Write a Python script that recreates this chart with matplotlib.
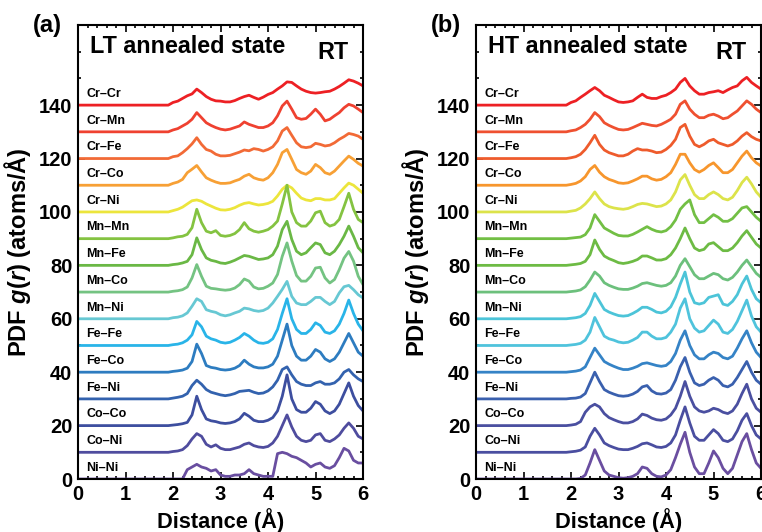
import numpy as np
import matplotlib
matplotlib.use("Agg")
import matplotlib.pyplot as plt
from matplotlib.ticker import MultipleLocator

plt.rcParams["font.family"] = ["Liberation Sans", "DejaVu Sans"]
plt.rcParams["font.weight"] = "bold"
plt.rcParams["mathtext.fontset"] = "custom"
plt.rcParams["mathtext.it"] = "Liberation Sans:bold:italic"
plt.rcParams["mathtext.rm"] = "Liberation Sans:bold"

# pair names, top to bottom (offset 140 ... 0)
pairs = ["Cr–Cr", "Cr–Mn", "Cr–Fe", "Cr–Co", "Cr–Ni",
         "Mn–Mn", "Mn–Fe", "Mn–Co", "Mn–Ni",
         "Fe–Fe", "Fe–Co", "Fe–Ni",
         "Co–Co", "Co–Ni", "Ni–Ni"]
offsets = [140, 130, 120, 110, 100, 90, 80, 70, 60, 50, 40, 30, 20, 10, 0]

# distance grid (Å) on which the curves were read, 2.0 ... 6.0
r_grid = np.round(np.arange(2.0, 6.001, 0.1), 1)

colors_a = ["#ed2024", "#ef4130", "#f26a36", "#f7a035", "#ece53c",
            "#84c341", "#6ab845", "#74c382", "#67c8d3",
            "#29b4e8", "#2d7cc0", "#3362ae",
            "#3d4e9f", "#4f4c9e", "#694ea0"]
colors_b = ["#ed2024", "#ef5030", "#ee5b2c", "#f7962d", "#dce34a",
            "#72bf44", "#6dbb44", "#6cc07c", "#4cc4d8",
            "#4fc3dc", "#3583c6", "#3a60ae",
            "#4a4fa0", "#4a4ea0", "#6a4ea0"]

# ---- (a) LT annealed state: g(r) above each baseline ----
CrCr_a = [1.0,1.5,2.5,3.5,4.2,6.0,4.7,3.2,2.2,1.6,1.5,1.2,1.2,1.7,2.5,3.2,3.7,2.9,2.2,3.0,4.0,4.7,6.0,7.2,8.7,8.5,7.2,6.0,5.2,4.7,4.5,4.7,5.0,5.2,6.0,7.0,8.2,9.5,9.0,8.2,7.2]
CrMn_a = [0.7,1.2,2.2,3.2,4.7,7.2,5.3,3.4,2.4,1.6,1.0,0.7,1.0,1.6,2.2,3.7,2.8,2.2,1.6,1.6,2.2,3.4,6.0,9.7,11.5,8.5,5.3,4.7,5.0,6.6,8.5,6.6,4.1,4.7,6.0,7.2,9.0,10.3,9.7,8.5,7.2]
CrFe_a = [0.7,1.0,2.2,3.7,5.5,7.8,5.3,3.4,2.8,1.6,1.0,1.0,1.2,1.8,2.4,3.2,2.9,3.7,3.4,2.8,3.4,4.4,6.6,10.3,11.6,8.7,5.9,4.4,4.1,4.4,5.7,5.3,4.7,5.0,5.9,7.2,8.2,9.4,9.0,8.4,7.2]
CrCo_a = [0.7,1.2,2.2,4.7,6.0,7.4,5.0,2.8,1.9,1.2,0.7,0.7,0.9,1.6,2.2,3.4,4.1,2.8,2.2,1.9,2.8,4.7,7.8,12.2,13.4,9.7,5.9,4.7,4.1,5.3,7.8,6.6,4.7,4.1,5.3,7.2,9.1,10.9,9.7,8.2,7.2]
CrNi_a = [0.5,1.0,1.8,3.0,4.2,4.5,4.0,3.0,2.2,1.4,0.8,0.7,1.0,1.6,2.5,3.2,3.5,3.0,2.6,2.8,3.2,4.0,6.0,8.5,10.0,9.0,7.0,5.2,4.5,4.2,5.0,5.0,4.5,4.5,5.0,7.0,9.0,10.8,10.0,8.5,7.0]
MnMn_a = [0.3,0.7,0.9,1.6,4.1,11.0,6.0,2.8,2.2,3.0,1.2,0.9,1.2,1.9,3.4,6.0,3.7,2.8,2.4,2.8,3.4,4.7,6.6,13.0,20.0,10.0,6.0,4.7,4.7,6.6,9.7,10.3,6.0,4.7,5.3,7.2,12.0,17.0,11.0,7.2,6.0]
MnFe_a = [0.3,0.5,0.9,1.5,4.0,10.3,5.9,2.8,1.9,1.5,0.9,0.7,1.2,1.9,2.8,3.7,3.4,2.8,2.2,2.4,2.8,4.0,7.2,13.4,16.5,9.7,5.3,4.0,4.7,6.6,8.4,7.8,4.7,4.0,5.3,7.8,10.9,14.7,10.9,6.6,4.7]
MnCo_a = [0.3,0.5,0.9,1.9,5.3,10.3,5.9,2.2,1.4,1.2,0.9,0.7,0.9,1.5,2.8,4.9,4.1,1.9,1.2,1.4,2.2,3.4,6.6,13.4,18.4,11.6,6.2,4.1,4.1,5.9,9.0,9.3,5.3,3.4,4.7,8.4,12.7,15.2,11.6,5.9,2.8]
MnNi_a = [0.4,0.6,1.1,2.2,4.7,7.5,6.5,3.4,2.8,2.4,1.5,1.1,1.5,2.2,2.8,4.0,3.7,3.1,2.8,3.1,4.0,5.9,8.4,11.0,14.0,8.4,5.9,5.3,5.3,6.5,8.0,8.0,6.5,5.3,6.5,9.7,12.0,12.5,10.9,9.0,7.8]
FeFe_a = [0.3,0.5,1.0,2.0,4.0,9.0,7.0,3.5,2.5,2.0,1.2,0.9,1.2,2.0,3.0,4.5,3.5,2.0,1.0,0.8,1.2,2.5,6.0,12.0,17.5,10.0,6.0,4.5,4.5,6.0,8.5,7.5,5.0,4.5,5.5,8.0,12.0,17.0,12.0,8.0,5.5]
FeCo_a = [0.3,0.5,0.8,1.5,4.0,10.5,7.0,2.5,1.8,1.5,1.0,0.8,1.0,1.5,2.5,4.5,3.0,2.0,1.6,1.6,2.0,3.0,6.0,12.0,18.0,10.0,6.0,4.5,4.5,6.0,8.5,7.5,5.0,4.0,5.0,7.5,11.0,14.5,11.0,7.5,6.0]
FeNi_a = [0.3,0.6,1.0,2.0,5.0,7.0,5.5,3.5,2.5,2.0,1.5,1.2,1.5,2.0,2.8,3.0,3.2,2.5,2.0,2.2,3.0,4.5,7.0,11.0,12.0,9.0,6.5,5.5,5.0,5.0,6.0,6.5,5.5,5.5,6.0,7.5,10.0,11.0,9.0,7.5,6.5]
CoCo_a = [0.2,0.4,0.7,1.2,4.0,11.0,6.0,2.5,1.8,1.5,1.0,0.8,1.0,1.5,2.5,4.6,3.5,2.0,1.5,1.5,2.0,3.0,5.5,11.0,19.0,10.0,6.0,5.0,5.0,6.5,9.0,8.0,5.5,4.5,5.5,8.0,12.0,16.0,11.0,7.5,5.5]
CoNi_a = [0.3,0.5,1.0,2.5,5.0,7.0,6.0,3.0,2.0,2.8,1.5,1.0,1.0,1.5,2.0,3.0,3.5,2.5,2.0,1.8,2.2,3.5,6.0,10.0,14.0,9.5,6.0,4.5,4.0,4.5,6.5,7.0,4.5,4.0,5.0,6.5,9.0,11.0,9.0,6.0,5.0]
NiNi_a = [0.0,0.0,0.0,3.5,4.5,5.5,4.5,4.0,3.0,3.5,1.5,1.0,1.0,1.5,1.5,2.0,3.5,2.0,1.5,1.0,1.0,1.0,9.5,10.0,9.5,8.5,8.0,7.0,6.0,4.5,5.5,6.0,4.5,4.0,5.0,8.0,11.5,10.5,7.0,6.0,6.0]

# ---- (b) HT annealed state ----
CrCr_b = [1.0,1.6,2.9,4.1,5.4,6.6,5.4,3.7,2.9,2.0,1.2,1.0,1.2,1.6,2.9,4.1,2.9,2.5,2.5,3.2,3.7,4.7,6.0,8.5,10.0,7.2,5.4,4.1,4.1,4.7,5.0,5.4,4.7,5.7,6.6,7.2,9.1,10.4,8.5,7.2,6.0]
CrMn_b = [0.4,0.7,1.6,2.8,4.7,7.2,5.7,3.4,2.4,1.6,0.9,0.7,0.9,1.6,2.4,3.2,2.8,2.4,2.2,2.8,3.7,4.7,6.6,10.3,11.6,8.5,6.6,5.3,5.3,6.2,6.6,5.9,4.9,5.3,6.6,7.8,9.7,11.6,10.3,8.5,7.2]
CrFe_b = [0.3,0.7,1.6,3.4,5.9,8.7,5.3,3.2,2.2,1.6,1.0,1.0,1.6,2.8,3.7,3.2,3.2,2.8,2.2,2.4,3.4,4.9,7.2,11.6,12.8,8.4,5.3,4.4,5.3,6.6,7.2,5.9,5.3,4.7,5.3,6.6,8.4,9.7,8.2,7.2,6.6]
CrCo_b = [0.3,0.7,1.6,3.2,5.9,7.4,4.9,3.2,2.2,1.6,0.9,0.7,0.9,1.6,2.4,3.4,3.4,2.4,1.9,2.2,3.2,4.7,7.8,11.6,11.6,8.4,5.9,4.9,5.9,7.4,8.4,6.6,4.7,4.7,5.9,8.4,10.9,12.8,10.3,8.4,7.2]
CrNi_b = [0.3,0.6,1.5,3.0,5.0,7.5,5.0,3.0,2.0,1.5,1.2,1.0,1.3,2.0,2.8,3.2,3.0,2.5,2.0,2.2,3.0,4.5,7.5,12.0,14.0,10.0,6.5,5.0,5.0,6.5,7.5,6.5,5.0,4.5,5.5,8.0,11.0,13.0,10.5,7.5,5.5]
MnMn_b = [0.2,0.4,0.6,1.5,4.0,9.0,6.5,4.0,3.0,2.0,1.2,1.0,1.0,1.6,2.5,3.5,4.5,3.5,2.8,2.5,3.0,4.5,7.0,11.0,13.0,14.5,9.0,6.0,6.0,7.5,9.0,8.0,6.5,6.5,7.5,9.5,11.5,12.0,10.0,8.0,6.5]
MnFe_b = [0.2,0.4,0.7,1.5,4.0,9.5,6.0,3.5,2.5,1.8,1.0,0.7,1.0,1.5,2.2,3.5,3.5,2.8,2.0,2.0,2.5,4.0,6.5,10.0,14.0,10.0,6.5,5.5,6.0,8.0,8.5,7.0,5.5,5.5,6.5,8.5,11.0,13.0,10.5,8.0,6.5]
MnCo_b = [0.2,0.4,0.8,2.0,4.5,7.5,6.0,3.5,2.5,1.8,1.2,1.0,1.0,1.5,2.2,3.2,3.5,3.0,2.5,2.2,2.5,3.5,6.0,10.0,12.5,9.5,6.5,5.0,5.0,6.0,7.0,6.5,5.0,4.5,5.5,7.5,10.0,12.0,9.5,7.0,5.5]
MnNi_b = [0.2,0.4,0.8,2.0,5.0,9.5,6.5,3.5,2.5,1.8,1.2,1.0,1.2,2.0,3.0,4.3,4.3,3.5,2.5,2.2,2.8,4.5,8.0,13.0,17.5,10.0,6.0,5.5,6.0,8.0,8.5,9.0,5.5,5.0,6.5,9.0,13.0,16.0,11.0,7.5,6.0]
FeFe_b = [0.2,0.4,0.8,2.0,5.0,10.5,7.0,3.5,2.5,2.0,1.3,1.0,1.2,2.0,3.0,5.0,5.0,3.5,2.5,2.5,3.0,5.0,8.0,14.0,17.5,10.0,6.5,5.0,5.5,7.5,9.5,8.0,5.0,4.5,6.0,9.0,13.0,17.0,11.0,7.0,5.0]
FeCo_b = [0.2,0.4,0.8,2.0,5.5,9.0,6.5,4.0,3.0,2.2,1.5,1.0,1.0,1.5,2.2,3.2,3.5,3.0,2.5,2.2,2.5,4.0,7.0,12.0,15.5,10.0,6.5,5.0,5.0,6.5,7.5,7.0,5.5,5.0,6.0,9.0,12.5,15.5,11.0,7.5,5.5]
FeNi_b = [0.2,0.3,0.7,2.0,6.0,10.0,6.5,3.5,2.5,1.8,1.2,1.0,1.2,1.8,2.8,4.5,5.0,3.0,2.0,1.8,2.2,3.5,7.0,12.0,15.5,10.0,6.0,5.0,5.5,7.0,8.0,7.0,5.0,4.5,5.5,8.0,11.0,14.0,10.0,7.0,5.5]
CoCo_b = [0.2,0.5,1.5,5.0,7.0,8.0,7.0,4.5,3.0,2.2,1.5,1.0,1.0,1.5,2.5,4.3,3.8,2.8,2.2,2.0,2.5,4.0,6.5,11.0,16.5,11.0,7.0,5.5,5.0,5.5,6.5,6.0,5.0,4.5,5.5,8.0,12.0,15.5,10.0,6.5,5.0]
CoNi_b = [0.2,0.4,0.8,2.0,6.0,9.0,6.5,3.5,2.5,1.8,1.2,1.0,1.0,1.5,2.2,3.2,3.5,2.8,2.0,1.8,2.2,3.5,6.5,12.0,17.0,11.0,6.0,4.5,4.5,6.5,8.5,7.0,4.5,4.0,5.0,8.0,12.0,14.5,10.0,6.5,5.0]
NiNi_b = [0.0,0.0,0.2,1.5,6.0,11.0,7.0,3.0,1.5,1.0,0.5,0.3,0.5,1.0,2.0,4.5,4.0,2.0,1.0,0.8,1.5,3.5,8.0,13.0,17.5,10.0,4.5,2.0,2.0,6.0,10.5,8.0,4.0,2.0,4.0,9.0,14.0,17.0,11.0,6.0,4.0]

curves_a = [CrCr_a, CrMn_a, CrFe_a, CrCo_a, CrNi_a, MnMn_a, MnFe_a, MnCo_a,
            MnNi_a, FeFe_a, FeCo_a, FeNi_a, CoCo_a, CoNi_a, NiNi_a]
curves_b = [CrCr_b, CrMn_b, CrFe_b, CrCo_b, CrNi_b, MnMn_b, MnFe_b, MnCo_b,
            MnNi_b, FeFe_b, FeCo_b, FeNi_b, CoCo_b, CoNi_b, NiNi_b]

fig = plt.figure(figsize=(7.62, 5.32), dpi=100)
ax_a = fig.add_axes([0.1024, 0.0996, 0.374, 0.8534])
ax_b = fig.add_axes([0.6247, 0.0996, 0.374, 0.8534])

panels = [
    (ax_a, curves_a, colors_a, "(a)", "LT annealed state"),
    (ax_b, curves_b, colors_b, "(b)", "HT annealed state"),
]

r_full = np.concatenate([[0.0, 1.9], r_grid])

for ax, curves, cols, tag, state in panels:
    for name, off, vals, c in zip(pairs, offsets, curves, cols):
        g = np.concatenate([[0.0, 0.0], vals])
        ax.plot(r_full, g + off, color=c, lw=2.0, solid_joinstyle="round")
        ax.text(0.18, off + 4.2, name, fontsize=9, fontweight="bold",
                ha="left", va="center")

    ax.set_xlim(0, 6)
    ax.set_ylim(0, 170)
    ax.set_xticks(range(0, 7))
    ax.set_yticks(range(0, 141, 20))
    ax.xaxis.set_minor_locator(MultipleLocator(0.2))
    ax.yaxis.set_minor_locator(MultipleLocator(10))
    ax.tick_params(which="both", direction="in", top=True, right=True,
                   width=1.2, labelsize=14.5)
    ax.tick_params(which="major", length=5, pad=4)
    ax.tick_params(which="minor", length=2.5)
    for lab in ax.get_xticklabels() + ax.get_yticklabels():
        lab.set_fontweight("bold")
    for s in ax.spines.values():
        s.set_linewidth(1.5)

    ax.set_xlabel("Distance (Å)", fontsize=15.7, fontweight="bold", labelpad=3)
    ax.set_ylabel("PDF $g$($r$) (atoms/Å)", fontsize=17, fontweight="bold",
                  labelpad=4)
    ax.text(0.042, 0.952, state, transform=ax.transAxes, fontsize=16.8,
            fontweight="bold", ha="left", va="center")
    ax.text(0.95, 0.9405, "RT", transform=ax.transAxes, fontsize=16.8,
            fontweight="bold", ha="right", va="center")
    ax.text(-0.107, 1.0, tag, transform=ax.transAxes, fontsize=17,
            fontweight="bold", ha="center", va="center")

fig.savefig("out.png", dpi=100)
